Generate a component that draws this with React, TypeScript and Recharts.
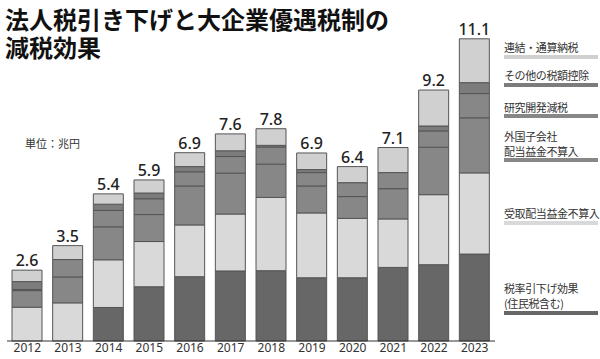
import React from 'react'
import { BarChart, Bar, XAxis, YAxis, LabelList } from 'recharts'

const years = ['2012', '2013', '2014', '2015', '2016', '2017', '2018', '2019', '2020', '2021', '2022', '2023']
const totals = [2.6, 3.5, 5.4, 5.9, 6.9, 7.6, 7.8, 6.9, 6.4, 7.1, 9.2, 11.1]

// 兆円, stacked from the bottom
const zeiritsu = [0, 0, 1.23, 1.99, 2.36, 2.57, 2.58, 2.32, 2.32, 2.7, 2.8, 3.19]
const uketori = [1.24, 1.4, 1.75, 1.66, 1.9, 2.09, 2.69, 2.38, 2.18, 1.78, 2.57, 2.98]
const gaikoku = [0.61, 0.95, 1.21, 0.99, 1.43, 1.5, 1.22, 0.99, 0.8, 1.11, 1.74, 2.02]
const kenkyu = [0.04, 0.64, 0.6, 0.58, 0.52, 0.61, 0.63, 0.49, 0.51, 0.59, 0.6, 0.89]
const sonota = [0.29, 0, 0.23, 0.21, 0.19, 0.21, 0.06, 0.11, 0, 0, 0.18, 0.4]
const renketsu = [0.42, 0.51, 0.38, 0.48, 0.51, 0.62, 0.61, 0.61, 0.59, 0.92, 1.32, 1.61]

const data = years.map((year, i) => ({
  year,
  total: totals[i],
  zeiritsu: zeiritsu[i],
  uketori: uketori[i],
  gaikoku: gaikoku[i],
  kenkyu: kenkyu[i],
  sonota: sonota[i],
  renketsu: renketsu[i]
}))

const series = [
  { key: 'zeiritsu', fill: '#676767' },
  { key: 'uketori', fill: '#d9d9d9' },
  { key: 'gaikoku', fill: '#878787' },
  { key: 'kenkyu', fill: '#878787' },
  { key: 'sonota', fill: '#7c7c7c' },
  { key: 'renketsu', fill: '#d0d0d0' }
]

const legendItems = [
  { lines: ['連結・通算納税'], top: 40, bar: 55, color: '#d0d0d0' },
  { lines: ['その他の税額控除'], top: 68, bar: 83, color: '#7c7c7c' },
  { lines: ['研究開発減税'], top: 100, bar: 114, color: '#878787' },
  { lines: ['外国子会社', '配当益金不算入'], top: 129, bar: 158, color: '#878787' },
  { lines: ['受取配当益金不算入'], top: 206, bar: 221, color: '#d9d9d9' },
  { lines: ['税率引下げ効果', '(住民税含む)'], top: 281, bar: 311, color: '#676767' }
]

const jp = '"Noto Sans CJK JP", "Noto Sans", sans-serif'

export default function App() {
  return (
    <div
      style={{
        position: 'absolute',
        left: 0,
        top: 0,
        width: 600,
        height: 359,
        background: '#fff',
        fontFamily: jp,
        overflow: 'hidden'
      }}
    >
      <BarChart
        width={600}
        height={359}
        data={data}
        margin={{ top: 14, right: 105, bottom: 0, left: 7 }}
        barSize={30}
      >
        <XAxis
          dataKey="year"
          height={18}
          tickLine={false}
          tickSize={0}
          tickMargin={2}
          axisLine={{ stroke: '#333', strokeWidth: 1.2 }}
          tick={{ fill: '#333', fontSize: 12, fontFamily: '"Noto Sans", sans-serif' }}
          interval={0}
        />
        <YAxis hide domain={[0, 12]} />
        {series.map((s, i) => (
          <Bar
            key={s.key}
            dataKey={s.key}
            stackId="a"
            fill={s.fill}
            stroke="#555"
            strokeWidth={1}
            isAnimationActive={false}
          >
            {i === series.length - 1 && (
              <LabelList
                dataKey="total"
                position="top"
                offset={4}
                formatter={(v: number) => v.toFixed(1)}
                style={{ fill: '#222', fontSize: 16, fontWeight: 500, fontFamily: '"Noto Sans", sans-serif' }}
              />
            )}
          </Bar>
        ))}
      </BarChart>

      <div style={{ position: 'absolute', left: 5, top: 5, fontSize: 24, fontWeight: 700, lineHeight: '28px', color: '#111' }}>
        法人税引き下げと大企業優遇税制の
        <br />
        減税効果
      </div>

      <div style={{ position: 'absolute', left: 25, top: 135, fontSize: 11, color: '#333' }}>単位：兆円</div>

      {legendItems.map(item => (
        <React.Fragment key={item.lines[0]}>
          <div style={{ position: 'absolute', left: 504, top: item.top, fontSize: 11, lineHeight: '15px', color: '#333', whiteSpace: 'nowrap', letterSpacing: -0.4 }}>
            {item.lines.map(l => (
              <div key={l}>{l}</div>
            ))}
          </div>
          <div style={{ position: 'absolute', left: 504, top: item.bar, width: 94, height: 4, background: item.color }} />
        </React.Fragment>
      ))}
    </div>
  )
}
